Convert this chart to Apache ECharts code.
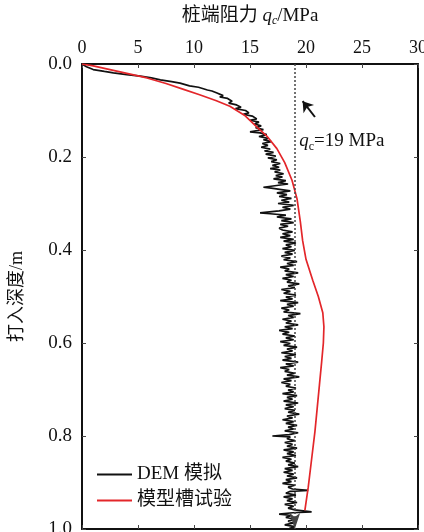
<!DOCTYPE html>
<html>
<head>
<meta charset="utf-8">
<script src="https://cdn.jsdelivr.net/npm/echarts@6/dist/echarts.min.js"></script>
<style>
  html, body { margin: 0; padding: 0; background: #fff; }
  #chart { width: 424px; height: 532px; }
</style>
</head>
<body>
<div id="chart"></div>
<script>
// 桩端阻力 q (MPa) vs 打入深度 d (m)
const xTicks = [0, 5, 10, 15, 20, 25, 30];
const yTicks = [0.0, 0.2, 0.4, 0.6, 0.8, 1.0];
const refQc = 19;

// 模型槽试验 [q, depth]
const modelCurve = [
  [0, 0], [1.0, 0.004], [2.5, 0.012], [4.0, 0.020], [5.8, 0.030], [7.5, 0.042],
  [9.0, 0.054], [10.5, 0.066], [12.0, 0.079], [13.2, 0.091], [14.5, 0.110],
  [15.6, 0.135], [16.5, 0.155], [17.4, 0.182], [18.1, 0.212], [18.75, 0.250],
  [19.2, 0.290], [19.5, 0.340], [19.7, 0.380], [20.0, 0.420], [20.6, 0.465],
  [21.1, 0.500], [21.5, 0.535], [21.6, 0.565], [21.55, 0.600], [21.4, 0.640],
  [21.2, 0.690], [21.0, 0.740], [20.8, 0.790], [20.5, 0.850], [20.2, 0.910],
  [19.9, 0.960]
];

// DEM 模拟 [q, depth]
const demCurve = [
  [0, 0], [0.4, 0.006], [1.0, 0.012], [2.0, 0.016], [2.8, 0.019], [4.0, 0.023],
  [5.2, 0.026], [6.2, 0.030], [7.0, 0.034], [8.0, 0.038], [8.75, 0.041], [9.6, 0.047],
  [10.4, 0.050], [11.2, 0.056], [11.6, 0.058], [12.0, 0.062], [12.6, 0.068], [12.3, 0.071],
  [13.0, 0.074], [13.4, 0.080], [13.1, 0.084], [13.8, 0.088], [14.2, 0.093], [13.7, 0.096],
  [14.6, 0.100], [14.9, 0.105], [14.4, 0.108], [15.2, 0.112], [15.6, 0.118], [15.0, 0.121],
  [15.8, 0.125], [15.4, 0.129], [16.0, 0.133], [15.5, 0.137], [16.2, 0.141], [15.0, 0.146],
  [15.9, 0.148], [16.5, 0.152], [15.8, 0.156], [16.6, 0.160], [16.2, 0.163], [16.9, 0.167],
  [16.1, 0.171], [16.6, 0.175], [16.0, 0.179], [16.8, 0.183], [16.3, 0.187], [17.1, 0.190],
  [16.4, 0.194], [17.3, 0.198], [16.6, 0.202], [17.4, 0.206], [16.9, 0.210], [17.7, 0.214],
  [17.0, 0.218], [17.6, 0.222], [16.8, 0.225], [17.7, 0.228], [17.2, 0.232], [18.0, 0.236],
  [17.3, 0.240], [17.9, 0.243], [17.1, 0.247], [18.2, 0.251], [17.5, 0.255], [18.4, 0.258],
  [16.2, 0.265], [16.9, 0.267], [17.8, 0.270], [18.6, 0.273], [17.4, 0.277], [18.3, 0.281],
  [17.6, 0.285], [18.7, 0.289], [17.8, 0.293], [18.5, 0.297], [17.5, 0.300], [18.9, 0.304],
  [17.9, 0.308], [18.6, 0.312], [17.6, 0.316], [15.9, 0.320], [16.8, 0.322], [18.2, 0.325],
  [17.4, 0.329], [18.7, 0.333], [17.8, 0.337], [18.9, 0.341], [17.7, 0.345], [18.4, 0.349],
  [17.6, 0.353], [17.9, 0.357], [18.8, 0.361], [17.9, 0.365], [18.6, 0.369], [17.7, 0.373],
  [18.9, 0.377], [18.0, 0.381], [19.1, 0.385], [18.2, 0.389], [18.7, 0.393], [17.9, 0.397],
  [19.0, 0.401], [18.1, 0.405], [18.8, 0.409], [17.8, 0.413], [18.6, 0.417], [18.0, 0.421],
  [19.2, 0.425], [18.3, 0.429], [18.9, 0.433], [17.7, 0.437], [18.5, 0.441], [18.1, 0.445],
  [19.3, 0.449], [18.2, 0.453], [18.9, 0.457], [17.9, 0.461], [18.7, 0.465], [18.3, 0.469],
  [19.4, 0.473], [18.4, 0.477], [19.0, 0.481], [17.8, 0.485], [18.6, 0.489], [18.0, 0.493],
  [19.1, 0.497], [18.2, 0.501], [18.8, 0.505], [17.7, 0.509], [19.3, 0.513], [18.3, 0.517],
  [18.9, 0.521], [17.8, 0.525], [18.5, 0.529], [18.0, 0.533], [19.5, 0.537], [18.4, 0.541],
  [18.9, 0.545], [17.9, 0.549], [18.7, 0.553], [18.2, 0.557], [19.3, 0.561], [18.1, 0.565],
  [18.8, 0.569], [17.6, 0.573], [18.5, 0.577], [17.9, 0.581], [19.0, 0.585], [18.2, 0.589],
  [18.9, 0.593], [17.7, 0.597], [18.6, 0.601], [18.0, 0.605], [19.2, 0.609], [18.3, 0.613],
  [18.8, 0.617], [17.8, 0.621], [19.1, 0.625], [18.1, 0.629], [18.7, 0.633], [17.9, 0.637],
  [19.3, 0.641], [18.2, 0.645], [18.9, 0.649], [17.7, 0.653], [18.5, 0.657], [18.1, 0.661],
  [19.0, 0.665], [18.3, 0.669], [19.4, 0.673], [18.0, 0.677], [18.7, 0.681], [17.8, 0.685],
  [18.6, 0.689], [18.2, 0.693], [19.1, 0.697], [18.4, 0.701], [18.9, 0.705], [17.9, 0.709],
  [19.2, 0.713], [18.3, 0.717], [18.8, 0.721], [18.0, 0.725], [19.3, 0.729], [18.2, 0.733],
  [18.9, 0.737], [18.1, 0.741], [19.0, 0.745], [18.4, 0.749], [19.4, 0.753], [18.3, 0.757],
  [18.8, 0.761], [17.9, 0.765], [18.9, 0.769], [18.2, 0.773], [19.2, 0.777], [18.4, 0.781],
  [18.9, 0.785], [18.1, 0.789], [19.3, 0.793], [18.5, 0.797], [17.0, 0.800], [18.6, 0.802],
  [18.3, 0.806], [19.0, 0.810], [18.1, 0.814], [18.8, 0.818], [18.3, 0.822], [19.2, 0.826],
  [18.0, 0.830], [18.9, 0.834], [18.3, 0.838], [19.1, 0.842], [17.9, 0.846], [18.7, 0.850],
  [18.2, 0.854], [19.0, 0.858], [18.4, 0.862], [19.3, 0.866], [18.1, 0.870], [18.8, 0.874],
  [18.0, 0.878], [18.9, 0.882], [18.3, 0.886], [19.2, 0.890], [18.2, 0.894], [18.7, 0.898],
  [17.9, 0.902], [19.0, 0.906], [18.4, 0.910], [18.8, 0.914], [20.2, 0.917], [18.6, 0.919],
  [18.2, 0.923], [19.1, 0.927], [18.0, 0.931], [18.8, 0.935], [18.3, 0.939], [19.2, 0.943],
  [18.1, 0.947], [18.9, 0.951], [18.4, 0.955], [19.0, 0.959], [20.5, 0.963], [18.8, 0.965],
  [17.6, 0.968], [18.7, 0.971], [18.2, 0.975], [19.1, 0.979], [18.4, 0.983], [18.9, 0.987],
  [18.1, 0.991], [19.0, 0.995], [18.5, 0.999]
];

const serif = '"Liberation Serif", "Noto Sans CJK SC", serif';
const frame = { show: true, onZero: false, lineStyle: { color: '#111', width: 2 } };
const innerTick = { show: true, inside: true, length: 4, lineStyle: { color: '#444', width: 1 } };

const chart = echarts.init(document.getElementById('chart'));
chart.setOption({
  animation: false,
  backgroundColor: '#fff',
  textStyle: { fontFamily: serif },
  grid: { left: 82, right: 6, top: 64, bottom: 3, outerBoundsMode: 'none', containLabel: false },
  legend: {
    data: ['DEM 模拟', '模型槽试验'],
    orient: 'vertical',
    left: 92,
    top: 460,
    icon: 'rect',
    itemWidth: 35,
    itemHeight: 2,
    itemGap: 7,
    textStyle: { fontFamily: serif, fontSize: 19, color: '#111' }
  },
  xAxis: [
    {
      type: 'value', position: 'top', min: 0, max: 30, interval: 5,
      name: '桩端阻力 {q|q}{c|c}/MPa',
      nameLocation: 'middle', nameGap: 37,
      nameTextStyle: {
        fontFamily: serif, fontSize: 19, color: '#111',
        rich: {
          q: { fontFamily: serif, fontStyle: 'italic', fontSize: 19, color: '#111' },
          c: { fontFamily: serif, fontStyle: 'italic', fontSize: 12, color: '#111', padding: [9, 0, 0, 0] }
        }
      },
      axisLine: frame, axisTick: innerTick,
      axisLabel: { fontFamily: serif, fontSize: 18, color: '#111', margin: 7 },
      splitLine: { show: false }
    },
    {
      type: 'value', position: 'bottom', min: 0, max: 30, interval: 5,
      axisLine: frame, axisTick: innerTick, axisLabel: { show: false },
      splitLine: { show: false }
    }
  ],
  yAxis: [
    {
      type: 'value', inverse: true, min: 0, max: 1, interval: 0.2,
      name: '打入深度/m', nameLocation: 'middle', nameGap: 56, nameRotate: 90,
      nameTextStyle: { fontFamily: serif, fontSize: 18, color: '#111' },
      axisLine: frame, axisTick: innerTick,
      axisLabel: { fontFamily: serif, fontSize: 19, color: '#111', margin: 10,
        formatter: v => v.toFixed(1) },
      splitLine: { show: false }
    },
    {
      type: 'value', inverse: true, min: 0, max: 1, interval: 0.2, position: 'right',
      axisLine: frame, axisTick: innerTick, axisLabel: { show: false },
      splitLine: { show: false }
    }
  ],
  series: [
    {
      name: 'DEM 模拟', type: 'line', symbol: 'none', z: 3,
      data: demCurve,
      lineStyle: { color: '#111', width: 1.7 },
      itemStyle: { color: '#111' },
      markLine: {
        silent: true, animation: false,
        label: { show: false },
        data: [
          { xAxis: refQc, symbol: 'none',
            lineStyle: { type: [2, 2], color: '#444', width: 1.5 } },
          [
            { coord: [20.8, 0.114], symbol: 'none', lineStyle: { type: 'solid', color: '#111', width: 2 } },
            { coord: [19.7, 0.080], symbol: 'arrow', symbolSize: 10 }
          ]
        ]
      },
      markPoint: {
        silent: true, symbol: 'circle', symbolSize: 0,
        data: [{ coord: [19.4, 0.165] }],
        label: {
          show: true, position: 'right', distance: 0,
          formatter: '{q|q}{c|c}{n|=19 MPa}',
          rich: {
            q: { fontFamily: serif, fontStyle: 'italic', fontSize: 19, color: '#111', lineHeight: 24, verticalAlign: 'middle' },
            c: { fontFamily: serif, fontSize: 12, color: '#111', lineHeight: 24, verticalAlign: 'bottom' },
            n: { fontFamily: serif, fontSize: 19, color: '#111', lineHeight: 24, verticalAlign: 'middle' }
          }
        }
      }
    },
    {
      name: '模型槽试验', type: 'line', symbol: 'none', z: 4,
      data: modelCurve,
      lineStyle: { color: '#e3262a', width: 1.7 },
      itemStyle: { color: '#e3262a' }
    }
  ]
});
</script>
</body>
</html>
